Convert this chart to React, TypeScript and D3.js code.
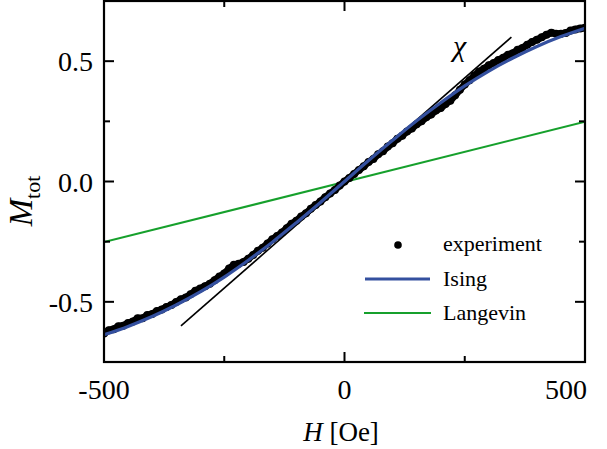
import React from "react";
import * as d3 from "d3";

const W = 607;
const H = 449;

const isingH = [-500,-450,-400,-350,-300,-250,-200,-150,-100,-50,0,50,100,150,200,250,300,350,400,450,500];
const isingM = [-0.637,-0.602,-0.561,-0.513,-0.459,-0.397,-0.327,-0.252,-0.171,-0.087,0,0.087,0.171,0.252,0.327,0.397,0.459,0.513,0.561,0.602,0.637];

const langevinH = [-500, 500];
const langevinM = [-0.252, 0.248];

const chiH = [-340, 347];
const chiM = [-0.6, 0.6];

const expH = d3.range(-500, 501, 10);
const expM = [
  -0.632,-0.618,-0.614,-0.601,-0.599,-0.588,-0.582,-0.568,-0.568,-0.555,
  -0.551,-0.538,-0.532,-0.521,-0.513,-0.501,-0.489,-0.482,-0.469,-0.454,
  -0.445,-0.435,-0.425,-0.410,-0.395,-0.382,-0.362,-0.346,-0.342,-0.334,
  -0.321,-0.305,-0.288,-0.275,-0.258,-0.240,-0.226,-0.212,-0.194,-0.176,
  -0.163,-0.145,-0.132,-0.113,-0.098,-0.083,-0.065,-0.050,-0.035,-0.017,
  0,
  0.015,0.031,0.048,0.063,0.081,0.094,0.113,0.126,0.145,0.159,
  0.178,0.190,0.208,0.220,0.238,0.250,0.267,0.278,0.295,0.305,
  0.322,0.336,0.358,0.381,0.403,0.421,0.440,0.457,0.469,0.483,
  0.492,0.505,0.514,0.527,0.533,0.547,0.555,0.568,0.580,0.589,
  0.599,0.610,0.618,0.614,0.614,0.617,0.627,0.632,0.636,0.639,
];

const xMajor = [-500, 0, 500];
const xMinor = [-250, 250];
const yMajor = [-0.5, 0, 0.5];
const yMinor = [-0.25, 0.25];
const yTickLabels = ["-0.5", "0.0", "0.5"];
const xTickLabels = ["-500", "0", "500"];
const legendLabels = ["experiment", "Ising", "Langevin"];

const BLUE = "#34509f";
const GREEN = "#16a02c";
const FONT = "Liberation Serif, Times New Roman, Times, serif";

export default function App() {
  const left = 104, right = 585, top = 1, bottom = 362;
  const x = d3.scaleLinear().domain([-500, 500]).range([left, right]);
  const y = d3.scaleLinear().domain([-0.75, 0.75]).range([bottom, top]);

  const line = d3.line<[number, number]>().x(d => x(d[0])).y(d => y(d[1]));
  const curve = d3.line<[number, number]>().x(d => x(d[0])).y(d => y(d[1])).curve(d3.curveCatmullRom);

  const ising = isingH.map((h, i) => [h, isingM[i]] as [number, number]);
  const lang = langevinH.map((h, i) => [h, langevinM[i]] as [number, number]);
  const chi = chiH.map((h, i) => [h, chiM[i]] as [number, number]);
  const exp = expH.map((h, i) => [h, expM[i]] as [number, number]);

  const major = 10, minor = 6;

  return (
    <svg width={W} height={H} style={{ position: "absolute", left: 0, top: 0, background: "#fff", fontFamily: FONT }}>
      <defs>
        <clipPath id="plot">
          <rect x={left} y={top} width={right - left} height={bottom - top} />
        </clipPath>
      </defs>
      <g clipPath="url(#plot)">
        <path d={line(lang) || ""} fill="none" stroke={GREEN} strokeWidth={2} />
        <path d={line(chi) || ""} fill="none" stroke="#000" strokeWidth={1.6} />
        <path d={line(exp) || ""} fill="none" stroke="#000" strokeWidth={7} strokeLinejoin="round" strokeLinecap="round" />
        {exp.map((d, i) => (
          <circle key={i} cx={x(d[0])} cy={y(d[1])} r={4} fill="#000" />
        ))}
        <path d={curve(ising) || ""} fill="none" stroke={BLUE} strokeWidth={3.2} />
      </g>
      <rect x={left} y={top} width={right - left} height={bottom - top} fill="none" stroke="#000" strokeWidth={2.2} />
      {xMajor.map(v => (
        <g key={"xm" + v}>
          <line x1={x(v)} x2={x(v)} y1={bottom} y2={bottom - major} stroke="#000" strokeWidth={2} />
          <line x1={x(v)} x2={x(v)} y1={top} y2={top + major} stroke="#000" strokeWidth={2} />
        </g>
      ))}
      {xMinor.map(v => (
        <g key={"xn" + v}>
          <line x1={x(v)} x2={x(v)} y1={bottom} y2={bottom - minor} stroke="#000" strokeWidth={2} />
          <line x1={x(v)} x2={x(v)} y1={top} y2={top + minor} stroke="#000" strokeWidth={2} />
        </g>
      ))}
      {yMajor.map(v => (
        <g key={"ym" + v}>
          <line x1={left} x2={left + major} y1={y(v)} y2={y(v)} stroke="#000" strokeWidth={2} />
          <line x1={right} x2={right - major} y1={y(v)} y2={y(v)} stroke="#000" strokeWidth={2} />
        </g>
      ))}
      {yMinor.map(v => (
        <g key={"yn" + v}>
          <line x1={left} x2={left + minor} y1={y(v)} y2={y(v)} stroke="#000" strokeWidth={2} />
          <line x1={right} x2={right - minor} y1={y(v)} y2={y(v)} stroke="#000" strokeWidth={2} />
        </g>
      ))}
      {yMajor.map((v, i) => (
        <text key={"yl" + v} x={93} y={y(v) + 10} textAnchor="end" fontSize={28}>{yTickLabels[i]}</text>
      ))}
      {xMajor.map((v, i) => (
        <text key={"xl" + v} x={Math.min(x(v), 566)} y={399} textAnchor="middle" fontSize={28}>{xTickLabels[i]}</text>
      ))}
      <text x={341} y={441} textAnchor="middle" fontSize={27}>
        <tspan fontStyle="italic">H</tspan>
        <tspan> [Oe]</tspan>
      </text>
      <text transform={`translate(32,201) rotate(-90)`} textAnchor="middle" fontSize={33}>
        <tspan fontStyle="italic">M</tspan>
        <tspan fontSize={22} dy={8}>tot</tspan>
      </text>
      <text x={453} y={56} fontSize={30} fontStyle="italic">χ</text>
      <circle cx={398} cy={245} r={3.8} fill="#000" />
      <text x={443} y={251} fontSize={22}>{legendLabels[0]}</text>
      <line x1={365} x2={430} y1={279} y2={279} stroke={BLUE} strokeWidth={3} />
      <text x={443} y={286} fontSize={22}>{legendLabels[1]}</text>
      <line x1={364} x2={431} y1={313} y2={313} stroke={GREEN} strokeWidth={2} />
      <text x={443} y={320} fontSize={22}>{legendLabels[2]}</text>
    </svg>
  );
}
